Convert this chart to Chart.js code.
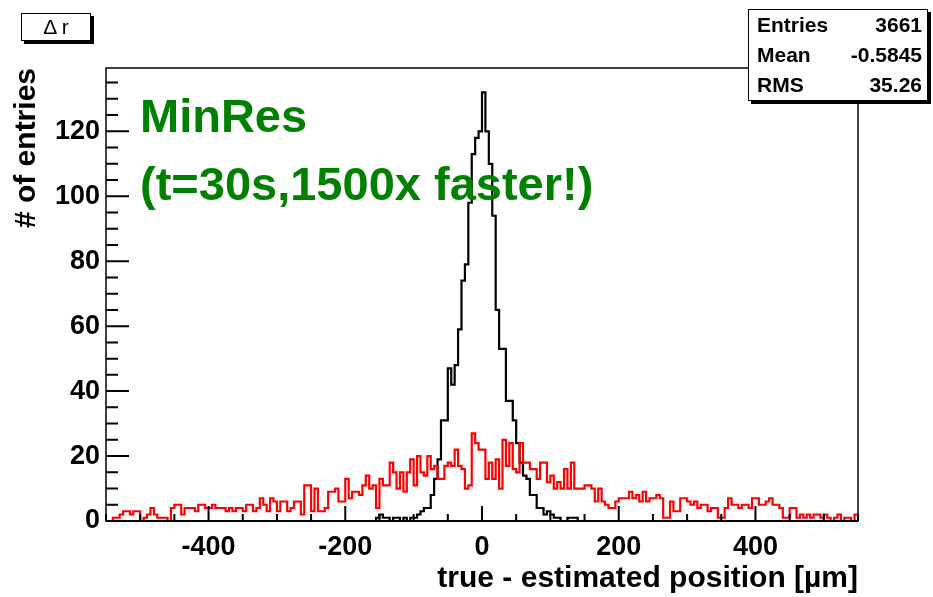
<!DOCTYPE html>
<html>
<head>
<meta charset="utf-8">
<script src="https://cdn.jsdelivr.net/npm/chart.js@4/dist/chart.umd.min.js"></script>
<style>
  body { margin: 0; background: #fff; }
  #wrap { position: relative; width: 933px; height: 597px; font-family: "Liberation Sans", Arial, Helvetica, sans-serif; }
  #c { position: absolute; left: 0; top: 0; }
  .tbox { position: absolute; left: 21px; top: 13px; width: 68px; height: 26px; border: 1px solid #000; box-shadow: 3px 3px 0 #000; background: #fff; font-size: 21px; line-height: 26px; text-align: center; }
  .stats { position: absolute; left: 748px; top: 9px; width: 178px; height: 90px; border: 1px solid #000; box-shadow: 3px 3px 0 #000; background: #fff; font-size: 21px; font-weight: bold; }
  .stats .row { display: flex; justify-content: space-between; height: 30px; line-height: 30px; padding: 0 5px 0 8px; }
  .lbl { position: absolute; left: 140px; font-size: 47px; line-height: 47px; font-weight: bold; color: #008000; white-space: nowrap; }
</style>
</head>
<body>
<div id="wrap">
  <canvas id="c" width="933" height="597"></canvas>
  <div class="tbox">Δ r</div>
  <div class="stats">
    <div class="row"><span>Entries</span><span>3661</span></div>
    <div class="row"><span>Mean</span><span>-0.5845</span></div>
    <div class="row"><span>RMS</span><span>35.26</span></div>
  </div>
  <div class="lbl" style="top:92px">MinRes</div>
  <div class="lbl" style="top:160px">(t=30s,1500x faster!)</div>
</div>
<script>
  // histogram binning: 220 bins of 5 µm from -550 to 550
  const BIN_LO = -550;
  const BIN_W = 5;
  const X_MIN = -550, X_MAX = 550;
  const Y_MAX = 139.5;
  const X_TICKS = [-400, -200, 0, 200, 400];
  const Y_TICKS = [0, 20, 40, 60, 80, 100, 120];
  const X_TITLE = "true - estimated position [\u00b5m]";
  const Y_TITLE = "# of entries";

  // black: MinRes
  const minres = [
    0,0,0,0,0,0,0,0,0,0,0,0,0,0,0,0,0,0,0,0,
    0,0,0,0,0,0,0,0,0,0,0,0,0,0,0,0,0,0,0,0,
    0,0,0,0,0,0,0,0,0,0,0,0,0,0,0,0,0,0,0,0,
    0,0,0,0,0,0,0,0,0,0,0,0,0,0,0,0,0,0,0,1,
    2,1,1,0,1,1,0,1,0,1,1,2,3,4,4,8,13,19,31,31,
    47,42,48,59,74,79,98,113,118,120,132,120,110,94,65,53,53,37,37,31,
    24,18,14,13,8,8,4,4,2,3,2,1,1,0,0,1,1,1,0,0,
    0,0,0,0,0,0,0,0,0,0,0,0,0,0,0,0,0,0,0,0,
    0,0,0,0,0,0,0,0,0,0,0,0,0,0,0,0,0,0,0,0,
    0,0,0,0,0,0,0,0,0,0,0,0,0,0,0,0,0,0,0,0,
    0,0,0,0,0,0,0,0,0,0,0,0,0,0,0,0,0,0,0,0
  ];

  // red: reference method
  const reference = [
    0,0,1,1,2,3,3,2,3,3,0,1,2,4,2,1,1,1,0,4,
    5,5,2,4,4,4,3,5,5,4,4,5,4,4,4,3,4,3,4,4,
    3,5,5,3,4,7,5,3,7,6,3,6,6,3,4,6,6,2,11,11,
    3,10,3,3,4,9,9,10,6,6,13,7,9,9,8,11,14,10,11,4,
    13,11,11,18,15,10,15,9,15,19,11,20,15,14,20,16,17,13,13,17,
    18,17,22,17,16,10,11,27,24,22,22,13,18,13,19,10,25,17,24,16,
    15,24,18,18,16,16,13,18,18,12,14,10,12,10,16,10,18,10,10,10,
    11,11,10,6,10,6,5,4,4,6,7,7,7,9,7,8,6,9,6,7,
    7,8,7,1,1,6,3,3,7,7,6,5,6,4,5,5,3,4,4,1,
    1,4,7,5,5,4,5,5,4,7,7,5,5,6,7,5,5,4,1,1,
    4,4,1,2,1,2,1,2,2,1,2,1,0,1,2,0,1,1,0,2
  ];

  const FONT = "'Liberation Sans', Arial, Helvetica, sans-serif";

  // step outline: one point per lower bin edge, plus the last upper edge
  function toSteps(counts) {
    const pts = counts.map((c, i) => ({ x: BIN_LO + i * BIN_W, y: c }));
    pts.push({ x: BIN_LO + counts.length * BIN_W, y: counts[counts.length - 1] });
    return pts;
  }

  // ROOT-like frame with inward ticks
  const rootAxes = {
    id: "rootAxes",
    afterDatasetsDraw(chart) {
      const { ctx, chartArea: a, scales: { x, y } } = chart;
      ctx.save();
      ctx.strokeStyle = "#000";
      ctx.lineWidth = 1.5;
      ctx.strokeRect(a.left, a.top, a.right - a.left, a.bottom - a.top);
      ctx.lineWidth = 2;
      ctx.beginPath();
      ctx.moveTo(a.left, a.bottom); ctx.lineTo(a.right, a.bottom);
      for (let v = X_MIN; v <= X_MAX; v += 50) {
        const px = x.getPixelForValue(v);
        const len = v % 200 === 0 ? 15 : 7;
        ctx.moveTo(px, a.bottom); ctx.lineTo(px, a.bottom - len);
      }
      for (let v = 0; v <= Y_MAX; v += 5) {
        const py = y.getPixelForValue(v);
        const len = v % 20 === 0 ? 23 : 12;
        ctx.moveTo(a.left, py); ctx.lineTo(a.left + len, py);
      }
      ctx.stroke();
      ctx.restore();
    }
  };

  new Chart(document.getElementById("c"), {
    type: "line",
    data: {
      datasets: [
        { label: "MinRes", data: toSteps(minres), borderColor: "#000", borderWidth: 2.2, stepped: true, pointRadius: 0, fill: false, order: 2 },
        { label: "reference", data: toSteps(reference), borderColor: "#ff0000", borderWidth: 2.2, stepped: true, pointRadius: 0, fill: false, order: 1 },
      ],
    },
    options: {
      responsive: false,
      animation: false,
      devicePixelRatio: 1,
      layout: { padding: { top: 68, right: 75, left: 0, bottom: 0 } },
      plugins: { legend: { display: false }, tooltip: { enabled: false } },
      scales: {
        x: {
          type: "linear", min: X_MIN, max: X_MAX,
          grid: { display: false, drawTicks: false }, border: { display: false },
          afterBuildTicks: (s) => { s.ticks = X_TICKS.map(v => ({ value: v })); },
          afterFit: (s) => { s.height = 76; },
          ticks: { color: "#000", padding: 10, maxRotation: 0, autoSkip: false, font: { family: FONT, size: 27, weight: "bold" }, callback: (v) => String(v) },
          title: { display: true, text: X_TITLE, align: "end", color: "#000", font: { family: FONT, size: 30, weight: "bold" }, padding: { top: 0, bottom: 0 } },
        },
        y: {
          min: 0, max: Y_MAX,
          grid: { display: false, drawTicks: false }, border: { display: false },
          afterBuildTicks: (s) => { s.ticks = Y_TICKS.map(v => ({ value: v })); },
          afterFit: (s) => { s.width = 106; },
          ticks: { color: "#000", padding: 6, font: { family: FONT, size: 27, weight: "bold" }, callback: (v) => String(v) },
          title: { display: true, text: Y_TITLE, align: "end", color: "#000", font: { family: FONT, size: 30, weight: "bold" }, padding: { top: 9, bottom: 0 } },
        },
      },
    },
    plugins: [rootAxes],
  });
</script>
</body>
</html>
